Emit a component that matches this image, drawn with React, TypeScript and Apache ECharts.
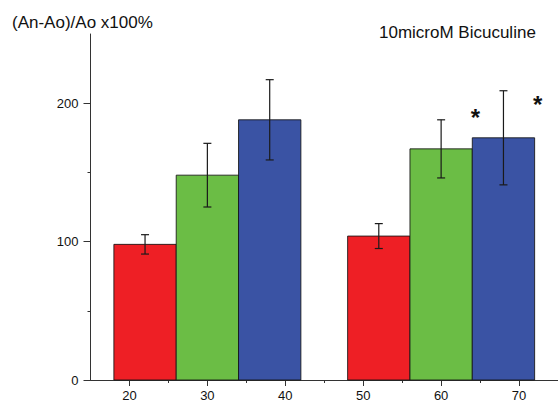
import React, { useEffect, useRef } from "react";
import * as echarts from "echarts";

// ---- data ----
const xCenters = [22, 30, 38, 52, 60, 68];
const means = [98, 148, 188, 104, 167, 175];
const errors = [7, 23, 29, 9, 21, 34];
const barColors = ["#EE1F25", "#6BBD45", "#3A53A4", "#EE1F25", "#6BBD45", "#3A53A4"];
const xTickLabels = [20, 30, 40, 50, 60, 70];
const xMinorTicks = [25, 35, 45, 55, 65];
const yTickLabels = [0, 100, 200];
const yMinorTicks = [50, 150];
const sigX = [64.4, 72.4];
const sigY = [190, 199];

const BAR_WIDTH = 8;
const CAP_HALF = 4; // px

export default function App() {
  const ref = useRef<HTMLDivElement>(null);
  useEffect(() => {
    if (!ref.current) return;
    const chart = echarts.init(ref.current, null, { renderer: "svg" });
    const font = "Liberation Sans, Arial, sans-serif";
    const axisColor = "#333";
    chart.setOption({
      animation: false,
      backgroundColor: "#fff",
      title: [
        {
          text: "(An-Ao)/Ao x100%",
          left: 12,
          top: 14,
          padding: 0,
          textStyle: { fontFamily: font, fontSize: 17, fontWeight: "normal", color: "#111" },
        },
        {
          text: "10microM Bicuculine",
          left: 379,
          top: 24,
          padding: 0,
          textStyle: { fontFamily: font, fontSize: 17, fontWeight: "normal", color: "#111" },
        },
      ],
      grid: { left: 90.5, right: -5.4, top: 34, bottom: 23, containLabel: false },
      xAxis: [
        {
          type: "value",
          min: 15,
          max: 75,
          position: "bottom",
          axisLine: { show: true, onZero: false, lineStyle: { color: axisColor, width: 1 } },
          axisTick: { show: true, length: 6, customValues: xTickLabels, lineStyle: { color: axisColor } },
          axisLabel: {
            customValues: xTickLabels,
            fontFamily: font,
            fontSize: 13,
            color: "#111",
            margin: 9,
          },
          splitLine: { show: false },
        },
        {
          type: "value",
          min: 15,
          max: 75,
          position: "bottom",
          axisLine: { show: false },
          axisTick: { show: true, length: 3, customValues: xMinorTicks, lineStyle: { color: axisColor } },
          axisLabel: { show: false },
          splitLine: { show: false },
        },
      ],
      yAxis: [
        {
          type: "value",
          min: 0,
          max: 250,
          position: "left",
          axisLine: { show: true, onZero: false, lineStyle: { color: axisColor, width: 1 } },
          axisTick: { show: true, length: 7, customValues: yTickLabels, lineStyle: { color: axisColor } },
          axisLabel: {
            customValues: yTickLabels,
            fontFamily: font,
            fontSize: 13,
            color: "#111",
            margin: 12,
          },
          splitLine: { show: false },
        },
        {
          type: "value",
          min: 0,
          max: 250,
          position: "left",
          axisLine: { show: false },
          axisTick: { show: true, length: 3, customValues: yMinorTicks, lineStyle: { color: axisColor } },
          axisLabel: { show: false },
          splitLine: { show: false },
        },
      ],
      series: [
        {
          type: "custom",
          name: "bars",
          xAxisIndex: 0,
          yAxisIndex: 0,
          data: xCenters.map((x, i) => [x, means[i]]),
          renderItem: (params: any, api: any) => {
            const x = api.value(0);
            const v = api.value(1);
            const p0 = api.coord([x - BAR_WIDTH / 2, v]);
            const p1 = api.coord([x + BAR_WIDTH / 2, 0]);
            return {
              type: "rect",
              shape: { x: p0[0], y: p0[1], width: p1[0] - p0[0], height: p1[1] - p0[1] },
              style: { fill: barColors[params.dataIndex], stroke: "rgba(20,20,20,0.85)", lineWidth: 1 },
            };
          },
        },
        {
          type: "custom",
          name: "errors",
          xAxisIndex: 0,
          yAxisIndex: 0,
          data: xCenters.map((x, i) => [x, means[i] - errors[i], means[i] + errors[i]]),
          renderItem: (params: any, api: any) => {
            const x = api.value(0);
            const lo = api.coord([x, api.value(1)]);
            const hi = api.coord([x, api.value(2)]);
            const style = { stroke: "#1a1a1a", lineWidth: 1.2 };
            return {
              type: "group",
              children: [
                { type: "line", shape: { x1: lo[0], y1: lo[1], x2: hi[0], y2: hi[1] }, style },
                { type: "line", shape: { x1: hi[0] - CAP_HALF, y1: hi[1], x2: hi[0] + CAP_HALF, y2: hi[1] }, style },
                { type: "line", shape: { x1: lo[0] - CAP_HALF, y1: lo[1], x2: lo[0] + CAP_HALF, y2: lo[1] }, style },
              ],
            };
          },
        },
        {
          type: "custom",
          name: "sig",
          xAxisIndex: 0,
          yAxisIndex: 0,
          data: sigX.map((x, i) => [x, sigY[i]]),
          renderItem: (params: any, api: any) => {
            const p = api.coord([api.value(0), api.value(1)]);
            return {
              type: "text",
              x: p[0],
              y: p[1],
              style: {
                text: "*",
                fontFamily: font,
                fontSize: 24,
                fontWeight: "bold",
                fill: "#111",
                align: "center",
                verticalAlign: "middle",
              },
            };
          },
        },
      ],
    });
    return () => chart.dispose();
  }, []);
  return (
    <div
      ref={ref}
      style={{ position: "fixed", left: 0, top: 0, width: 558, height: 403, background: "#fff" }}
    />
  );
}
